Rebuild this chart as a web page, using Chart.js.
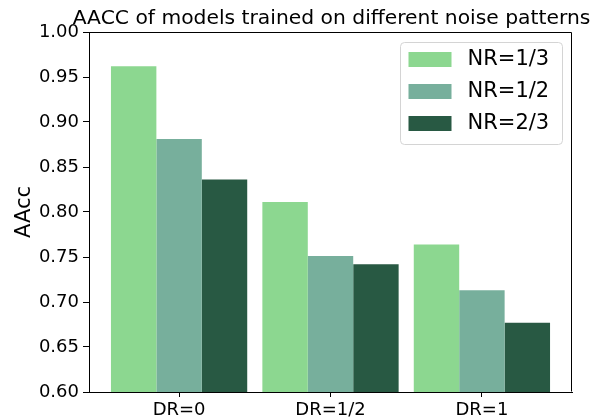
<!DOCTYPE html>
<html>
<head>
<meta charset="utf-8">
<script src="https://cdn.jsdelivr.net/npm/chart.js@4/dist/chart.umd.min.js"></script>
<style>
  html, body { margin: 0; padding: 0; background: #fff; }
  #wrap { width: 603px; height: 418px; }
</style>
</head>
<body>
<div id="wrap"><canvas id="chart" width="603" height="418"></canvas></div>
<script>
// data
const categories = ['DR=0', 'DR=1/2', 'DR=1'];
const xPositions = [0, 1, 2];
const seriesLabels = ['NR=1/3', 'NR=1/2', 'NR=2/3'];
const nrThird = [0.962, 0.811, 0.764];
const nrHalf = [0.881, 0.751, 0.713];
const nrTwoThirds = [0.836, 0.742, 0.677];
const seriesColors = ['#8cd790', '#77af9c', '#285943'];
const chartTitle = 'AACC of models trained on different noise patterns';

Chart.defaults.font.family = '"DejaVu Sans", sans-serif';
Chart.defaults.color = '#000';

function toPoints(values) {
    return values.map((v, i) => ({ x: xPositions[i], y: v }));
}

// top + right spines and the title centred over the axes (no maxWidth squeeze)
const frameBox = {
    id: 'frameBox',
    afterDraw(chart) {
        const { ctx, chartArea } = chart;
        const l = Math.round(chartArea.left) + 0.5;
        const r = Math.round(chartArea.right) - 0.5;
        const t = Math.round(chartArea.top) + 0.5;
        const b = Math.round(chartArea.bottom) - 0.5;
        ctx.save();
        ctx.strokeStyle = '#000';
        ctx.lineWidth = 1;
        ctx.beginPath();
        ctx.moveTo(l, t);
        ctx.lineTo(r, t);
        ctx.lineTo(r, b);
        ctx.stroke();

        ctx.font = '20.3px "DejaVu Sans"';
        ctx.fillStyle = '#000';
        ctx.textAlign = 'center';
        ctx.textBaseline = 'alphabetic';
        ctx.fillText(chartTitle, (chartArea.left + chartArea.right) / 2 + 1, 24);
        ctx.restore();
    }
};

// legend inside the plot, top right
const legendBox = {
    id: 'legendBox',
    afterDraw(chart) {
        const { ctx, chartArea } = chart;
        const w = 162, h = 102;
        const x = Math.round(chartArea.right - 10 - w) + 0.5;
        const y = Math.round(chartArea.top + 10) + 0.5;
        ctx.save();
        ctx.beginPath();
        ctx.roundRect(x, y, w, h, 4);
        ctx.fillStyle = 'rgba(255,255,255,0.8)';
        ctx.fill();
        ctx.strokeStyle = '#d4d4d4';
        ctx.lineWidth = 1;
        ctx.stroke();
        ctx.font = '21px "DejaVu Sans"';
        ctx.textBaseline = 'middle';
        ctx.textAlign = 'left';
        chart.data.datasets.forEach((ds, i) => {
            const cy = y + 17 + i * 32;
            ctx.fillStyle = ds.backgroundColor;
            ctx.fillRect(x + 8, cy - 7.5, 43, 15);
            ctx.fillStyle = '#000';
            ctx.fillText(ds.label, x + 67, cy);
        });
        ctx.restore();
    }
};

const ctx = document.getElementById('chart').getContext('2d');
const chart = new Chart(ctx, {
    type: 'bar',
    data: {
        datasets: [nrThird, nrHalf, nrTwoThirds].map((vals, i) => ({
            label: seriesLabels[i],
            data: toPoints(vals),
            backgroundColor: seriesColors[i],
            borderWidth: 0,
            categoryPercentage: 0.9,
            barPercentage: 1.0
        }))
    },
    options: {
        responsive: false,
        animation: false,
        layout: { padding: { left: 0, right: 31, top: 32, bottom: 0 } },
        plugins: {
            legend: { display: false },
            tooltip: { enabled: false },
            title: { display: false }
        },
        scales: {
            x: {
                type: 'linear',
                min: -0.595,
                max: 2.595,
                offset: false,
                afterBuildTicks: scale => {
                    scale.ticks = xPositions.map(v => ({ value: v }));
                },
                afterFit: scale => { scale.height = 26; },
                ticks: {
                    font: { size: 18, lineHeight: 1.1 },
                    color: '#000',
                    padding: 3,
                    maxRotation: 0,
                    callback: (value, index) => categories[index]
                },
                grid: {
                    offset: false,
                    drawOnChartArea: false,
                    drawTicks: true,
                    tickLength: 5,
                    color: '#000'
                },
                border: { display: true, color: '#000', width: 1 }
            },
            y: {
                min: 0.6,
                max: 1.0,
                afterFit: scale => { scale.width = 89; },
                ticks: {
                    stepSize: 0.05,
                    font: { size: 18 },
                    color: '#000',
                    padding: 4,
                    callback: value => value.toFixed(2)
                },
                grid: {
                    drawOnChartArea: false,
                    drawTicks: true,
                    tickLength: 6,
                    color: '#000'
                },
                border: { display: true, color: '#000', width: 1 },
                title: {
                    display: true,
                    text: 'AAcc',
                    font: { size: 21 },
                    color: '#000',
                    padding: { top: 12, bottom: 0 }
                }
            }
        }
    },
    plugins: [frameBox, legendBox]
});
</script>
</body>
</html>
